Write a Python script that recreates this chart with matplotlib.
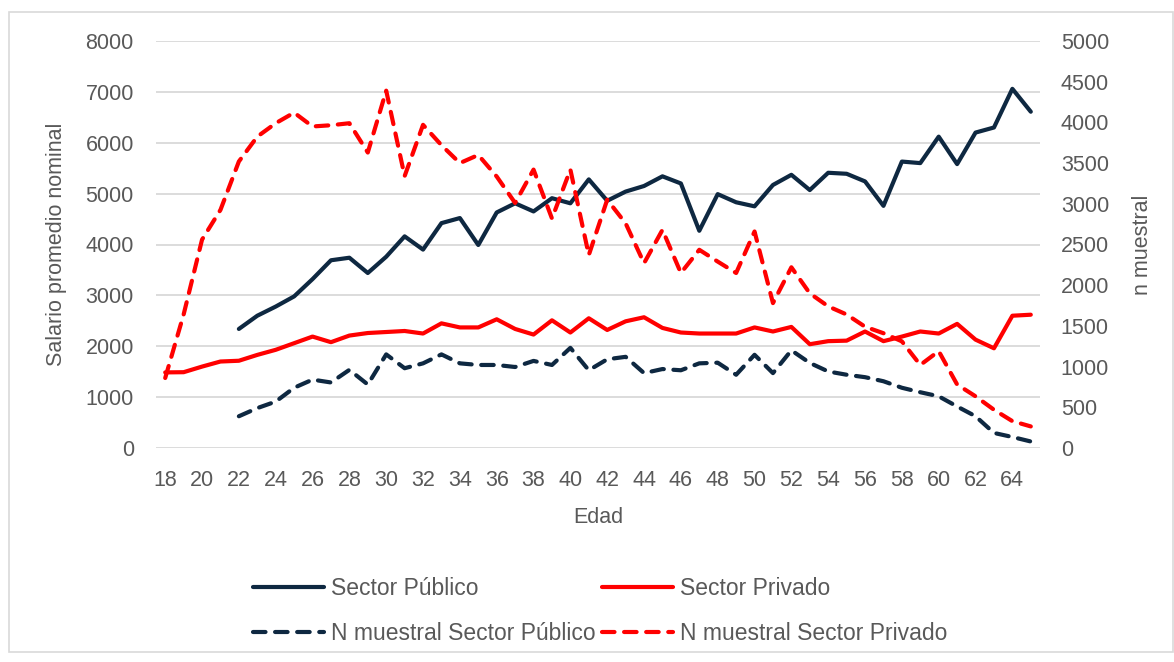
import numpy as np
import matplotlib.pyplot as plt
from matplotlib.patches import Rectangle

# edades
edad = list(range(18, 66))
edad_pub = list(range(22, 66))

# salario promedio nominal
sal_publico = [2340, 2600, 2780, 2980, 3320, 3690, 3740, 3440, 3760, 4160,
               3900, 4420, 4520, 3990, 4630, 4810, 4650, 4910, 4810, 5280,
               4860, 5040, 5150, 5340, 5200, 4270, 4990, 4830, 4750, 5170,
               5370, 5070, 5410, 5390, 5240, 4760, 5630, 5600, 6120, 5580,
               6200, 6300, 7060, 6610]
sal_privado = [1486, 1490, 1600, 1700, 1715, 1830, 1930, 2060, 2190, 2080,
               2210, 2260, 2280, 2300, 2250, 2450, 2370, 2370, 2530, 2340,
               2230, 2510, 2270, 2550, 2320, 2490, 2570, 2360, 2270, 2250,
               2250, 2250, 2370, 2290, 2380, 2040, 2100, 2110, 2290, 2100,
               2190, 2290, 2250, 2440, 2130, 1960, 2600, 2620]

# n muestral
n_publico = [390, 490, 570, 740, 840, 805, 960, 780, 1150, 980,
             1040, 1150, 1040, 1020, 1020, 995, 1070, 1020, 1230, 955,
             1090, 1120, 920, 970, 955, 1040, 1048, 900, 1145, 920,
             1200, 1045, 940, 900, 870, 820, 740, 685, 635, 510,
             390, 185, 135, 80]
n_privado = [860, 1640, 2560, 2925, 3520, 3825, 3990, 4120, 3950, 3965,
             3990, 3630, 4390, 3340, 3970, 3720, 3500, 3600, 3335, 3010,
             3420, 2820, 3420, 2370, 3050, 2760, 2270, 2680, 2150, 2435,
             2290, 2150, 2660, 1780, 2220, 1900, 1740, 1640, 1490, 1410,
             1310, 1020, 1190, 780, 635, 470, 330, 265]

azul = '#0E2841'
rojo = '#FF0000'
gris = '#595959'

plt.rcParams['font.family'] = ['Liberation Sans', 'DejaVu Sans']

fig = plt.figure(figsize=(11.74, 6.62), dpi=100)
ax = fig.add_axes([156/1174, 1-448/662, 884/1174, 407/662])
ax2 = ax.twinx()

fig.patches.append(Rectangle((9/1174, 10/662), 1164/1174, 640/662,
                             transform=fig.transFigure, fill=False,
                             edgecolor='#d9d9d9', lw=1.2))

lw = 3
l1, = ax.plot(edad_pub, sal_publico, color=azul, lw=lw, solid_capstyle='round',
              solid_joinstyle='round', label='Sector Público')
l2, = ax.plot(edad, sal_privado, color=rojo, lw=lw, solid_capstyle='round',
              solid_joinstyle='round', label='Sector Privado')
l3, = ax2.plot(edad_pub, n_publico, color=azul, lw=lw, dashes=(3, 2.3),
               dash_capstyle='round', dash_joinstyle='round',
               label='N muestral Sector Público')
l4, = ax2.plot(edad, n_privado, color=rojo, lw=lw, dashes=(3, 2.3),
               dash_capstyle='round', dash_joinstyle='round',
               label='N muestral Sector Privado')

ax.set_xlim(17.5, 65.5)
ax.set_ylim(0, 8000)
ax2.set_ylim(0, 5000)
ax.set_yticks(range(0, 8001, 1000))
ax2.set_yticks(range(0, 5001, 500))
ax.set_xticks(range(18, 65, 2))
ax.grid(axis='y', color='#d9d9d9', lw=1.3)
ax.set_axisbelow(True)

for a in (ax, ax2):
    for s in a.spines.values():
        s.set_visible(False)
    a.tick_params(length=0, labelsize=15.5, labelcolor=gris)
ax.tick_params(axis='y', pad=16)
ax.tick_params(axis='x', pad=16)
ax2.tick_params(axis='y', pad=15)

ax.set_ylabel('Salario promedio nominal', fontsize=15.5, color=gris)
ax.yaxis.set_label_coords(-0.101, 0.5)
ax2.set_ylabel('n muestral', fontsize=15.5, color=gris)
ax2.yaxis.set_label_coords(1.104, 0.5)
ax.set_xlabel('Edad', fontsize=15.5, color=gris)
ax.xaxis.set_label_coords(0.5, -0.145)

fig.legend([l1, l3, l2, l4], [l.get_label() for l in (l1, l3, l2, l4)],
           ncol=2, loc='center', bbox_to_anchor=(600/1174, 1-611/662),
           frameon=False, labelcolor=gris, handlelength=3.1,
           columnspacing=0.3, handletextpad=0.3, labelspacing=0.95,
           prop={'size': 16.5})

fig.savefig('out.png', dpi=100)
